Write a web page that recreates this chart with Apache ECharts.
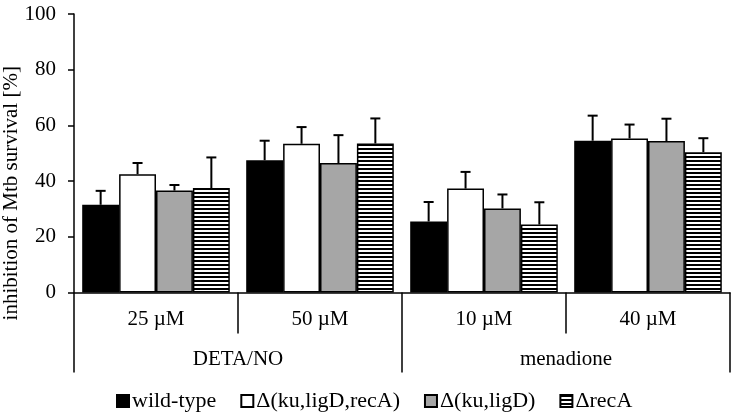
<!DOCTYPE html>
<html>
<head>
<meta charset="utf-8">
<script src="https://cdn.jsdelivr.net/npm/echarts@6/dist/echarts.min.js"></script>
<style>
html,body{margin:0;padding:0;background:#fff;}
#chart{width:736px;height:418px;}
</style>
</head>
<body>
<div id="chart"></div>
<script>
const categories = ['25 µM', '50 µM', '10 µM', '40 µM'];
const groupLabels = ['DETA/NO', 'menadione'];
const seriesNames = ['wild-type', 'Δ(ku,ligD,recA)', 'Δ(ku,ligD)', 'ΔrecA'];
const yTicks = [0, 20, 40, 60, 80, 100];

const wildType = [31.5, 47.5, 25.5, 54.5];
const wildTypeErr = [5, 7, 7, 9];
const kuLigDRecA = [42.5, 53.4, 37.3, 55.3];
const kuLigDRecAErr = [4, 6, 6, 5];
const kuLigD = [36.6, 46.5, 30.2, 54.4];
const kuLigDErr = [2, 10, 5, 8];
const recA = [37.5, 53.5, 24.4, 50.4];
const recAErr = [11, 9, 8, 5];

const values = [wildType, kuLigDRecA, kuLigD, recA];
const errors = [wildTypeErr, kuLigDRecAErr, kuLigDErr, recAErr];

const FONT = '"Liberation Serif", "Times New Roman", serif';

// stripe pattern
const pc = document.createElement('canvas');
pc.width = 4; pc.height = 4;
const pctx = pc.getContext('2d');
pctx.fillStyle = '#ffffff'; pctx.fillRect(0, 0, 4, 4);
pctx.fillStyle = '#000000'; pctx.fillRect(0, 0, 4, 2);

const fills = ['#000000', '#ffffff', '#a6a6a6', { image: pc, repeat: 'repeat' }];

const CAT_GAP = 0.10;
const NB = 4;

const series = [];
values.forEach((vals, k) => {
  series.push({
    name: seriesNames[k],
    type: 'bar',
    xAxisIndex: 0,
    data: vals,
    barGap: '0%',
    barCategoryGap: (CAT_GAP * 100) + '%',
    itemStyle: { color: fills[k], borderColor: '#000', borderWidth: 1.5 },
    emphasis: { disabled: true },
    z: 2
  });
});
values.forEach((vals, k) => {
  series.push({
    name: 'err' + k,
    type: 'custom',
    xAxisIndex: 0,
    data: vals.map((v, i) => [i, v, errors[k][i]]),
    encode: { x: 0, y: 1 },
    z: 5,
    silent: true,
    renderItem: function (params, api) {
      const i = api.value(0), v = api.value(1), e = api.value(2);
      const p0 = api.coord([i, v]);
      const p1 = api.coord([i, v + e]);
      const band = api.size([1, 0])[0];
      const bw = band * (1 - CAT_GAP) / NB;
      const cx = p0[0] + (k - (NB - 1) / 2) * bw;
      const style = { stroke: '#000', lineWidth: 2 };
      return {
        type: 'group',
        children: [
          { type: 'line', shape: { x1: cx, y1: p0[1], x2: cx, y2: p1[1] }, style: style },
          { type: 'line', shape: { x1: cx - 5, y1: p1[1], x2: cx + 5, y2: p1[1] }, style: style }
        ]
      };
    }
  });
});

const chart = echarts.init(document.getElementById('chart'), null, { renderer: 'canvas' });
chart.setOption({
  animation: false,
  backgroundColor: '#ffffff',
  textStyle: { fontFamily: FONT },
  grid: { left: 74, right: 6, top: 14, bottom: 125.5, containLabel: false, outerBoundsMode: 'none' },
  legend: {
    data: seriesNames,
    left: 111,
    top: 385,
    itemWidth: 12,
    itemHeight: 12,
    itemGap: 24,
    icon: 'rect',
    textStyle: { fontFamily: FONT, fontSize: 22, color: '#000', padding: [0, 0, 0, -2] },
    selectedMode: false
  },
  xAxis: [
    {
      type: 'category',
      data: categories,
      position: 'bottom',
      axisLine: { show: true, lineStyle: { color: '#000', width: 1.5 } },
      axisTick: { show: true, interval: 0, length: 41, lineStyle: { color: '#000', width: 1.5 } },
      axisLabel: { interval: 0, margin: 16, fontFamily: FONT, fontSize: 21, color: '#000' },
      splitLine: { show: false }
    },
    {
      type: 'category',
      data: groupLabels,
      position: 'bottom',
      axisLine: { show: false },
      axisTick: { show: true, interval: 0, length: 80, lineStyle: { color: '#000', width: 1.5 } },
      axisLabel: { interval: 0, margin: 56, fontFamily: FONT, fontSize: 21, color: '#000' },
      splitLine: { show: false }
    }
  ],
  yAxis: {
    type: 'value',
    min: yTicks[0],
    max: yTicks[yTicks.length - 1],
    interval: yTicks[1] - yTicks[0],
    name: 'inhibition of Mtb survival [%]',
    nameLocation: 'middle',
    nameRotate: 90,
    nameGap: 52,
    nameMoveOverlap: false,
    nameTextStyle: { fontFamily: FONT, fontSize: 21, color: '#000', padding: [0, 80, 0, 0] },
    axisLine: { show: true, lineStyle: { color: '#000', width: 1.5 } },
    axisTick: { show: true, inside: false, length: 6, lineStyle: { color: '#000', width: 1.5 } },
    axisLabel: { margin: 18, fontFamily: FONT, fontSize: 21, color: '#000' },
    splitLine: { show: false }
  },
  series: series
});
</script>
</body>
</html>
